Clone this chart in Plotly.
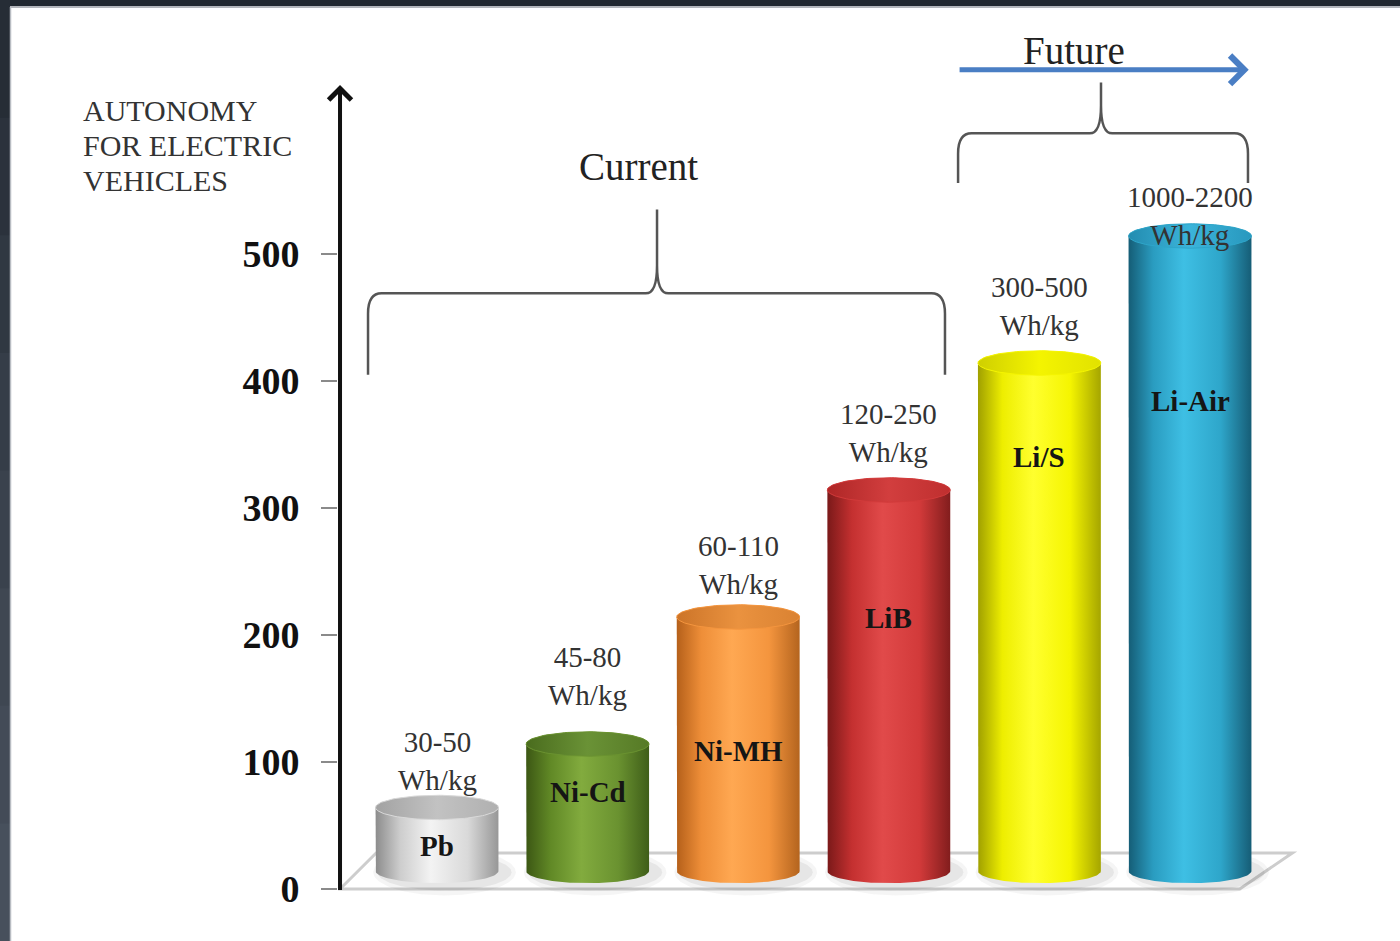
import numpy as np
import plotly.graph_objects as go

# ---- data -------------------------------------------------------------
categories = ["Pb", "Ni-Cd", "Ni-MH", "LiB", "Li/S", "Li-Air"]
autonomy = [50, 100, 200, 300, 400, 500]
energy_ranges = ["30-50", "45-80", "60-110", "120-250", "300-500", "1000-2200"]
energy_unit = "Wh/kg"
y_ticks = [0, 100, 200, 300, 400, 500]
caption_lines = ["AUTONOMY", "FOR ELECTRIC", "VEHICLES"]

# ---- styling ----------------------------------------------------------
W, H = 1400, 941
LEFT = 338                      # plot area starts here (px)
X_RANGE = [-0.6574, 6.3944]
Y_RANGE = [-40.94, 700.0]
FLOOR_DEPTH = 28.4              # depth of the 3D floor, value units
BASE = FLOOR_DEPTH / 2          # cylinders stand in the middle of the floor
RX = 0.408                      # cylinder radius (category units)
RY = 9.6                        # ellipse half-height (value units)
SERIF = "Liberation Serif"

# label placement tweaks (value units)
range_label_lift = [51, 68, 55, 59, 59, 30]
name_label_y = [34, 76, 109, 213, 340, 384]

body_scales = [
    [[0, "#8c8c8c"], [0.2, "#cdcdcd"], [0.45, "#f3f3f3"], [0.75, "#d9d9d9"], [1, "#979797"]],
    [[0, "#3c5714"], [0.2, "#618926"], [0.45, "#82ab3e"], [0.75, "#6a9230"], [1, "#3f5e19"]],
    [[0, "#b5601a"], [0.2, "#ee8e38"], [0.45, "#ffa852"], [0.75, "#f4953e"], [1, "#b4641e"]],
    [[0, "#7a1919"], [0.2, "#c43030"], [0.45, "#e14a4a"], [0.75, "#d23a3a"], [1, "#821d1d"]],
    [[0, "#a0a000"], [0.2, "#eeee00"], [0.45, "#ffff2e"], [0.75, "#f5f500"], [1, "#a5a500"]],
    [[0, "#155d76"], [0.2, "#2a9cc0"], [0.45, "#3ebfe4"], [0.75, "#2ea6ca"], [1, "#165d76"]],
]
top_scales = [
    [[0, "#a2a2a2"], [0.5, "#c2c2c2"], [1, "#b0b0b0"]],
    [[0, "#4a6c1e"], [0.5, "#6a9236"], [1, "#567a26"]],
    [[0, "#cc7428"], [0.5, "#ea923f"], [1, "#da8232"]],
    [[0, "#ae2626"], [0.5, "#d23e3e"], [1, "#bf2f2f"]],
    [[0, "#cfcf00"], [0.5, "#f4f400"], [1, "#e2e200"]],
    [[0, "#238cb0"], [0.5, "#3bb4da"], [1, "#2898be"]],
]


def px_x(p):
    return (p - LEFT) / (W - LEFT)


def px_y(q):
    return 1 - q / H


fig = go.Figure()

t_low = np.linspace(np.pi, 2 * np.pi, 60)
t_up = np.linspace(0, np.pi, 60)
t_all = np.linspace(0, 2 * np.pi, 120)

# soft shadows on the floor
for i, v in enumerate(autonomy):
    for sx, sy, a in [(1.16, 1.9, 0.05), (1.09, 1.5, 0.08)]:
        fig.add_trace(go.Scatter(
            x=i + 0.05 + RX * sx * np.cos(t_all),
            y=BASE - 1.0 + RY * sy * np.sin(t_all),
            mode="lines", line=dict(width=0), fill="toself",
            fillcolor=f"rgba(60,60,60,{a})", hoverinfo="skip", showlegend=False))

# cylinder bodies and tops
for i, v in enumerate(autonomy):
    top = BASE + v
    bx = np.concatenate([[i - RX], i + RX * np.cos(t_low), [i + RX], i + RX * np.cos(t_up)])
    by = np.concatenate([[top], BASE + RY * np.sin(t_low), [top], top + RY * np.sin(t_up)])
    fig.add_trace(go.Scatter(
        x=bx, y=by, mode="lines", line=dict(width=0), fill="toself",
        fillcolor=body_scales[i][2][1],
        fillgradient=dict(type="horizontal", colorscale=body_scales[i]),
        hoverinfo="skip", showlegend=False))
    fig.add_trace(go.Scatter(
        x=i + RX * np.cos(t_all), y=top + RY * np.sin(t_all),
        mode="lines", line=dict(width=1, color=body_scales[i][3][1]), fill="toself",
        fillcolor=top_scales[i][1][1],
        fillgradient=dict(type="horizontal", colorscale=top_scales[i]),
        hoverinfo="skip", showlegend=False))

shapes = []
# floor of the 3D plot
fl, fr, dl, dr = -0.644, 5.33, 0.24, 0.35
shapes.append(dict(
    type="path", xref="x", yref="y", layer="below",
    path=f"M{fl},0 L{fr},0 L{fr + dr},{FLOOR_DEPTH} L{fl + dl},{FLOOR_DEPTH} Z",
    line=dict(color="#cdcdcd", width=3), fillcolor="white"))


def brace(xl, xr, xm, y_end, y_bar, y_peak):
    cx, cy = 0.09, 16
    mx, my = 0.075, 22
    return (f"M{xl},{y_end} L{xl},{y_bar - cy} Q{xl},{y_bar} {xl + cx},{y_bar} "
            f"L{xm - mx},{y_bar} Q{xm},{y_bar} {xm},{y_bar + my} L{xm},{y_peak} "
            f"M{xm},{y_bar + my} Q{xm},{y_bar} {xm + mx},{y_bar} "
            f"L{xr - cx},{y_bar} Q{xr},{y_bar} {xr},{y_bar - cy} L{xr},{y_end}")


braces = [
    ("Current", -0.458, 3.373, 1.461, 405, 469, 535, 1.34, 569),
    ("Future", 3.46, 5.385, 4.409, 556, 595, 635, 4.23, 660),
]
annotations = []
for name, xl, xr, xm, ye, yb, yp, tx, ty in braces:
    shapes.append(dict(type="path", xref="x", yref="y", path=brace(xl, xr, xm, ye, yb, yp),
                       line=dict(color="#555555", width=2.5)))
    annotations.append(dict(x=tx, y=ty, xref="x", yref="y", text=name, showarrow=False,
                            font=dict(family=SERIF, size=39, color="#222222")))

# dark frame along the top and left edges
shapes.append(dict(type="rect", xref="paper", yref="paper", x0=px_x(0), x1=px_x(W),
                   y0=px_y(6), y1=px_y(0), line=dict(width=0), fillcolor="#212830"))
shapes.append(dict(type="line", xref="paper", yref="paper", x0=px_x(10), x1=px_x(W),
                   y0=px_y(7), y1=px_y(7), line=dict(width=1.5, color="#9a9ea4")))
band_cols = ["#262d36", "#2b323c", "#303842", "#353d48", "#3a424d", "#3f4752", "#434b57", "#47505c"]
n = len(band_cols)
for k, c in enumerate(band_cols):
    shapes.append(dict(type="rect", xref="paper", yref="paper", x0=px_x(0), x1=px_x(10),
                       y0=0, y1=px_y(H * k / n),
                       line=dict(width=0), fillcolor=c))
shapes.append(dict(type="line", xref="paper", yref="paper", x0=px_x(10.5), x1=px_x(10.5),
                   y0=0, y1=px_y(7), line=dict(width=1.5, color="#b8bcc2")))

# value axis with arrow head
axis_x = -0.644
annotations.append(dict(x=axis_x, y=633, ax=axis_x, ay=-2, xref="x", yref="y",
                        axref="x", ayref="y", text="", showarrow=True,
                        arrowhead=4, arrowsize=1.1, arrowwidth=4, arrowcolor="#111111",
                        standoff=0, startstandoff=0))

# future arrow
annotations.append(dict(x=5.39, y=645, ax=3.46, ay=645, xref="x", yref="y",
                        axref="x", ayref="y", text="", showarrow=True,
                        arrowhead=4, arrowsize=1.1, arrowwidth=5, arrowcolor="#4a7ec4",
                        standoff=0))

# axis caption, one annotation per line
for k, line in enumerate(caption_lines):
    annotations.append(dict(x=px_x(81), y=px_y(110 + 35.5 * k), xref="paper", yref="paper",
                            xanchor="left", yanchor="middle", showarrow=False, text=line,
                            font=dict(family=SERIF, size=30, color="#333333")))

# labels on and above the cylinders
for i, v in enumerate(autonomy):
    annotations.append(dict(x=i, y=v + range_label_lift[i], xref="x", yref="y",
                            text=f"{energy_ranges[i]}<br>{energy_unit}", showarrow=False,
                            font=dict(family=SERIF, size=29, color="#333333")))
    annotations.append(dict(x=i, y=name_label_y[i], xref="x", yref="y",
                            text=f"<b>{categories[i]}</b>", showarrow=False,
                            font=dict(family=SERIF, size=29, color="#151515")))

fig.update_layout(
    width=W, height=H,
    margin=dict(l=LEFT, r=0, t=0, b=0),
    paper_bgcolor="white", plot_bgcolor="white",
    showlegend=False,
    shapes=shapes, annotations=annotations,
    xaxis=dict(range=X_RANGE, visible=False, fixedrange=True),
    yaxis=dict(range=Y_RANGE, tickvals=y_ticks, ticktext=[str(t) for t in y_ticks],
               ticks="outside", ticklen=16, tickwidth=2, tickcolor="#8a8a8a",
               ticklabelstandoff=14,
               tickfont=dict(family=SERIF, size=38, color="#111111", weight="bold"),
               showgrid=False, zeroline=False, showline=False, fixedrange=True),
)

fig.write_html("out.html")
